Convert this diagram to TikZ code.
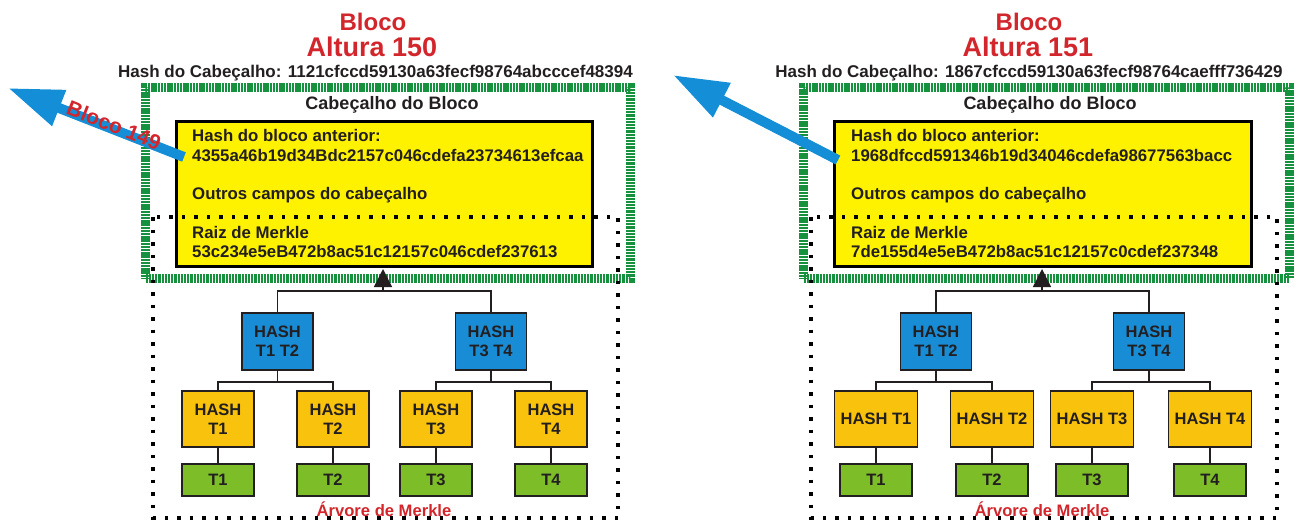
\documentclass[tikz,border=0pt]{standalone}
\usepackage{fontspec}
\setmainfont{Liberation Sans}
\usetikzlibrary{arrows.meta,calc}

\definecolor{titlered}{RGB}{210,38,44}
\definecolor{inkdark}{RGB}{35,31,32}
\definecolor{framegreen}{RGB}{22,145,62}
\definecolor{hdryellow}{RGB}{255,242,0}
\definecolor{hashblue}{RGB}{24,140,213}
\definecolor{hashorange}{RGB}{249,194,12}
\definecolor{txgreen}{RGB}{124,189,40}
\definecolor{linkblue}{RGB}{20,142,215}

% bold text at a given size (pt) and line spacing
\newcommand\pxf[2]{\fontsize{#1pt}{#2pt}\selectfont\bfseries}

\tikzset{
  titletxt/.style={inner sep=0pt, anchor=base, text=titlered},
  hdrtxt/.style={inner sep=0pt, anchor=base, text=inkdark, font=\pxf{17}{20}},
  fieldtxt/.style={inner sep=0pt, anchor=base west, text=inkdark, font=\pxf{16.8}{20}},
  greenframe/.style={draw=framegreen, line width=9pt, dash pattern=on 2.3pt off 0.9pt,
    minimum height=191pt, inner sep=0pt},
  yellowbox/.style={draw=black, line width=3pt, fill=hdryellow,
    minimum height=144pt, inner sep=0pt},
  treedots/.style={draw=black, line width=3.5pt, dash pattern=on 3.5pt off 9pt},
  treeline/.style={draw=inkdark, line width=1.4pt},
  rootarrow/.style={treeline, -{Triangle[length=18pt,width=18pt]}},
  tbox/.style={draw=inkdark, line width=1.4pt, text=inkdark, align=center,
    inner sep=0pt, font=\pxf{16.5}{19}},
  pairbox/.style={tbox, fill=hashblue, minimum width=71pt, minimum height=57pt},
  leafbox/.style={tbox, fill=hashorange, minimum height=56pt},
  txbox/.style={tbox, fill=txgreen, minimum width=72pt, minimum height=32pt},
  linkarrow/.style={draw=linkblue, line width=10pt,
    -{Triangle[length=55pt,width=36pt]}},
  treetitle/.style={inner sep=0pt, anchor=base, text=titlered, font=\pxf{16.6}{20}},
}

\begin{document}
\begin{tikzpicture}[x=1pt, y=-1pt]
\useasboundingbox (0,0) rectangle (1295,524);

%% ---------------- Block 150 ----------------
\node[titletxt, font=\pxf{24}{28}] (Ltitle) at (373,31) {Bloco};
\node[titletxt, font=\pxf{27}{30}] (Lalt) at (372,57) {Altura 150};
\node[hdrtxt] (Lhdr) at (375.5,78) {Hash do Cabeçalho: 1121cfccd59130a63fecf98764abcccef48394};

\node[greenframe, minimum width=484.5pt] (Lframe) at (387.75,183) {};
\node[hdrtxt, font=\pxf{18}{20}] (Lcab) at (392,109.5) {Cabeçalho do Bloco};

\node[yellowbox, minimum width=416pt] (Lyel) at (384,194) {};
\node[fieldtxt] (Lprevlbl) at (192,141.7) {Hash do bloco anterior:};
\node[fieldtxt] (Lprev) at (192,161) {4355a46b19d34Bdc2157c046cdefa23734613efcaa};
\node[fieldtxt] (Lother) at (192,199.5) {Outros campos do cabeçalho};
\node[fieldtxt] (Lrootlbl) at (192,238) {Raiz de Merkle};
\node[fieldtxt] (Lroot) at (192,257) {53c234e5eB472b8ac51c12157c046cdef237613};

% Merkle tree area
\draw[treedots] (153,217) rectangle (618,518);

\node[pairbox] (Lh12) at (277.5,341.5) {HASH\\T1 T2};
\node[pairbox] (Lh34) at (491,341.5) {HASH\\T3 T4};
\node[leafbox, minimum width=72pt] (Lt1) at (218,419) {HASH\\T1};
\node[leafbox, minimum width=72pt] (Lt2) at (333,419) {HASH\\T2};
\node[leafbox, minimum width=72pt] (Lt3) at (436,419) {HASH\\T3};
\node[leafbox, minimum width=72pt] (Lt4) at (551,419) {HASH\\T4};
\node[txbox] (Lx1) at (218,480) {T1};
\node[txbox] (Lx2) at (333,480) {T2};
\node[txbox] (Lx3) at (436,480) {T3};
\node[txbox] (Lx4) at (551,480) {T4};

\coordinate (Ljoin) at (383,291);
\coordinate (Ltip) at (383,269);
\coordinate (Lbar12) at (277.5,382);
\coordinate (Lbar34) at (491,382);
\draw[treeline] (Lh12.north) |- (Ljoin) -| (Lh34.north);
\draw[rootarrow] (Ljoin) -- (Ltip);
\draw[treeline] (Lh12.south) -- (Lbar12);
\draw[treeline] (Lh34.south) -- (Lbar34);
\draw[treeline] (Lt1.north) |- (Lbar12) -| (Lt2.north);
\draw[treeline] (Lt3.north) |- (Lbar34) -| (Lt4.north);
\foreach \i in {1,2,3,4} \draw[treeline] (Lt\i.south) -- (Lx\i.north);

\node[treetitle] (Ltree) at (384,516) {Árvore de Merkle};

% link to the previous block
\coordinate (Lprevtip) at (8,88);
\draw[linkarrow] ($(Lprev.west)+(-8,2)$) -- (Lprevtip);
\node[inner sep=0pt, text=titlered, font=\pxf{21}{24}, rotate=-22] (Lback) at (114,125) {Bloco 149};

%% ---------------- Block 151 ----------------
\node[titletxt, font=\pxf{24}{28}] (Rtitle) at (1029,31) {Bloco};
\node[titletxt, font=\pxf{27}{30}] (Ralt) at (1028,57) {Altura 151};
\node[hdrtxt] (Rhdr) at (1029,78) {Hash do Cabeçalho: 1867cfccd59130a63fecf98764caefff736429};

\node[greenframe, minimum width=486pt] (Rframe) at (1046.5,183) {};
\node[hdrtxt, font=\pxf{18}{20}] (Rcab) at (1050,109.5) {Cabeçalho do Bloco};

\node[yellowbox, minimum width=417pt] (Ryel) at (1042.5,194) {};
\node[fieldtxt] (Rprevlbl) at (851,141.7) {Hash do bloco anterior:};
\node[fieldtxt] (Rprev) at (851,161) {1968dfccd591346b19d34046cdefa98677563bacc};
\node[fieldtxt] (Rother) at (851,199.5) {Outros campos do cabeçalho};
\node[fieldtxt] (Rrootlbl) at (851,238) {Raiz de Merkle};
\node[fieldtxt] (Rroot) at (851,257) {7de155d4e5eB472b8ac51c12157c0cdef237348};

\draw[treedots] (811,217) rectangle (1277,518);

\node[pairbox] (Rh12) at (936,341.5) {HASH\\T1 T2};
\node[pairbox] (Rh34) at (1149,341.5) {HASH\\T3 T4};
\node[leafbox, minimum width=83pt] (Rt1) at (876,419) {HASH T1};
\node[leafbox, minimum width=83pt] (Rt2) at (992,419) {HASH T2};
\node[leafbox, minimum width=83pt] (Rt3) at (1092,419) {HASH T3};
\node[leafbox, minimum width=83pt] (Rt4) at (1210,419) {HASH T4};
\node[txbox] (Rx1) at (876,480) {T1};
\node[txbox] (Rx2) at (992,480) {T2};
\node[txbox] (Rx3) at (1092,480) {T3};
\node[txbox] (Rx4) at (1210,480) {T4};

\coordinate (Rjoin) at (1042,291);
\coordinate (Rtip) at (1042,269);
\coordinate (Rbar12) at (936,382);
\coordinate (Rbar34) at (1149,382);
\draw[treeline] (Rh12.north) |- (Rjoin) -| (Rh34.north);
\draw[rootarrow] (Rjoin) -- (Rtip);
\draw[treeline] (Rh12.south) -- (Rbar12);
\draw[treeline] (Rh34.south) -- (Rbar34);
\draw[treeline] (Rt1.north) |- (Rbar12) -| (Rt2.north);
\draw[treeline] (Rt3.north) |- (Rbar34) -| (Rt4.north);
\foreach \i in {1,2,3,4} \draw[treeline] (Rt\i.south) -- (Rx\i.north);

\node[treetitle] (Rtree) at (1042,516) {Árvore de Merkle};

% link to block 150
\coordinate (Rprevtip) at (673,75);
\draw[linkarrow] ($(Rprev.west)+(-13,5)$) -- (Rprevtip);
\end{tikzpicture}
\end{document}
